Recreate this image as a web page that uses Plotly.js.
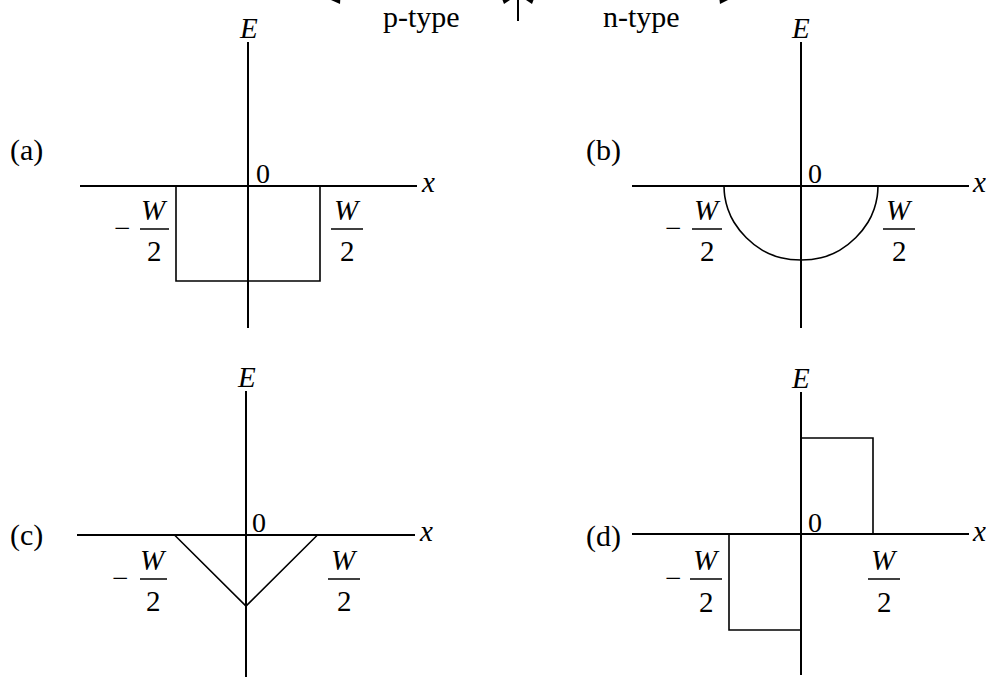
<!DOCTYPE html>
<html>
<head>
<meta charset="utf-8">
<script src="https://cdn.plot.ly/plotly-3.0.1.min.js"></script>
<style>html,body{margin:0;padding:0;background:#fff}#chart{width:986px;height:677px}</style>
</head>
<body>
<div id="chart"></div>
<script>
// ---- data (x in units of W/2, E in relative units) ----
const rectX = [-1, -1, 1, 1];
const rectE = [0, -1, -1, 0];
const semiX = [-1, -0.99, -0.95, -0.87, -0.71, -0.5, -0.26, 0, 0.26, 0.5, 0.71, 0.87, 0.95, 0.99, 1];
const semiE = [0, -0.14, -0.31, -0.49, -0.70, -0.87, -0.97, -1, -0.97, -0.87, -0.70, -0.49, -0.31, -0.14, 0];
const triX = [-1, 0, 1];
const triE = [0, -1, 0];
const stepX = [-1, -1, 0, null, 0, 1, 1];
const stepE = [0, -1, -1, null, 1, 1, 0];
const panelLabels = ['(a)', '(b)', '(c)', '(d)'];
const regionLabels = ['p-type', 'n-type'];
const axisLabels = ['E', 'x', '0'];
const fracTop = 'W', fracBottom = '2', minusSign = '\u2212';

// ---- layout helpers (pixel -> paper) ----
const PW = 986, PH = 677;
const px = x => x / PW, py = y => 1 - y / PH;
const FONT = 'Liberation Serif';
const FS = 29;

// panel geometry in pixels: axis extents, origin and unit sizes
const panels = [
  {x0: 80, x1: 417, y0: 42, y1: 328, cx: 248, cy: 186, ux: 72, uy: 95,
   lab: [26, 150], E: [248, 28], zero: [263, 173], xl: [428, 182],
   minus: 122, barL: [140, 169], barR: [331, 363], fy: [210, 229, 251], X: rectX, Y: rectE, shape: 'linear'},
  {x0: 632, x1: 969, y0: 42, y1: 328, cx: 801, cy: 186, ux: 77, uy: 74,
   lab: [603, 150], E: [800, 28], zero: [815, 173], xl: [979, 182],
   minus: 673, barL: [692, 722], barR: [883, 915], fy: [210, 229, 251], X: semiX, Y: semiE, shape: 'spline'},
  {x0: 77, x1: 415, y0: 391, y1: 677, cx: 246, cy: 535, ux: 71.5, uy: 71,
   lab: [26, 535], E: [246, 377], zero: [259, 522], xl: [426, 531],
   minus: 120, barL: [140, 167], barR: [328, 360], fy: [560, 579, 601], X: triX, Y: triE, shape: 'linear'},
  {x0: 632, x1: 969, y0: 392, y1: 675, cx: 801, cy: 534, ux: 72, uy: 96,
   lab: [603, 536], E: [800, 378], zero: [815, 522], xl: [979, 531],
   minus: 673, barL: [690, 722], barR: [868, 900], fy: [560, 579, 602], X: stepX, Y: stepE, shape: 'linear'}
];

const data = [];
const layout = {
  width: PW, height: PH,
  margin: {l: 0, r: 0, t: 0, b: 0},
  paper_bgcolor: '#fff', plot_bgcolor: 'rgba(0,0,0,0)',
  showlegend: false,
  annotations: [], shapes: []
};

function ann(text, x, y, size) {
  layout.annotations.push({
    text: text, x: px(x), y: py(y), xref: 'paper', yref: 'paper',
    xanchor: 'center', yanchor: 'middle', showarrow: false,
    font: {family: FONT, size: size || FS, color: '#000'}
  });
}
function line(x0, y0, x1, y1, w) {
  layout.shapes.push({type: 'line', xref: 'paper', yref: 'paper',
    x0: px(x0), y0: py(y0), x1: px(x1), y1: py(y1),
    line: {color: '#000', width: w || 1.5}});
}
function tri(pts) {
  const d = 'M' + pts.map(p => px(p[0]) + ',' + py(p[1])).join(' L') + ' Z';
  layout.shapes.push({type: 'path', xref: 'paper', yref: 'paper', path: d,
    fillcolor: '#000', line: {color: '#000', width: 0}});
}

panels.forEach((p, i) => {
  const n = i === 0 ? '' : String(i + 1);
  const xr = [(p.x0 - p.cx) / p.ux, (p.x1 - p.cx) / p.ux];
  const yr = [-(p.y1 - p.cy) / p.uy, (p.cy - p.y0) / p.uy];
  const base = {showgrid: false, zeroline: true, zerolinecolor: '#000', zerolinewidth: 2,
    showticklabels: false, ticks: '', showline: false, fixedrange: true};
  layout['xaxis' + n] = Object.assign({}, base, {domain: [px(p.x0), px(p.x1)], range: xr, anchor: 'y' + n});
  layout['yaxis' + n] = Object.assign({}, base, {domain: [py(p.y1), py(p.y0)], range: yr, anchor: 'x' + n});
  data.push({x: p.X, y: p.Y, xaxis: 'x' + n, yaxis: 'y' + n, type: 'scatter', mode: 'lines',
    line: {color: '#000', width: 1.6, shape: p.shape, smoothing: 1}, connectgaps: false, hoverinfo: 'skip'});

  ann(panelLabels[i], p.lab[0], p.lab[1], 30);
  ann('<i>' + axisLabels[0] + '</i>', p.E[0], p.E[1]);
  ann('<i>' + axisLabels[1] + '</i>', p.xl[0], p.xl[1]);
  ann(axisLabels[2], p.zero[0], p.zero[1], 28);
  const cl = (p.barL[0] + p.barL[1]) / 2, cr = (p.barR[0] + p.barR[1]) / 2;
  // -W/2
  ann(minusSign, p.minus, p.fy[1] - 1);
  ann('<i>' + fracTop + '</i>', cl, p.fy[0]);
  ann(fracBottom, cl, p.fy[2]);
  line(p.barL[0], p.fy[1], p.barL[1], p.fy[1], 1.5);
  // W/2
  ann('<i>' + fracTop + '</i>', cr, p.fy[0]);
  ann(fracBottom, cr, p.fy[2]);
  line(p.barR[0], p.fy[1], p.barR[1], p.fy[1], 1.5);
});

// header: region labels and (mostly clipped) arrows
ann(regionLabels[0], 421, 17, 30);
ann(regionLabels[1], 641, 17, 30);
line(518, -2, 518, 21, 2);
tri([[322, -4], [341, -12], [340, 4]]);
tri([[516, -4], [498, -12], [504, 4]]);
tri([[520, -4], [538, -12], [532, 4]]);
tri([[736, -4], [718, -12], [720, 4]]);

Plotly.newPlot('chart', data, layout, {staticPlot: true, displayModeBar: false});
</script>
</body>
</html>
